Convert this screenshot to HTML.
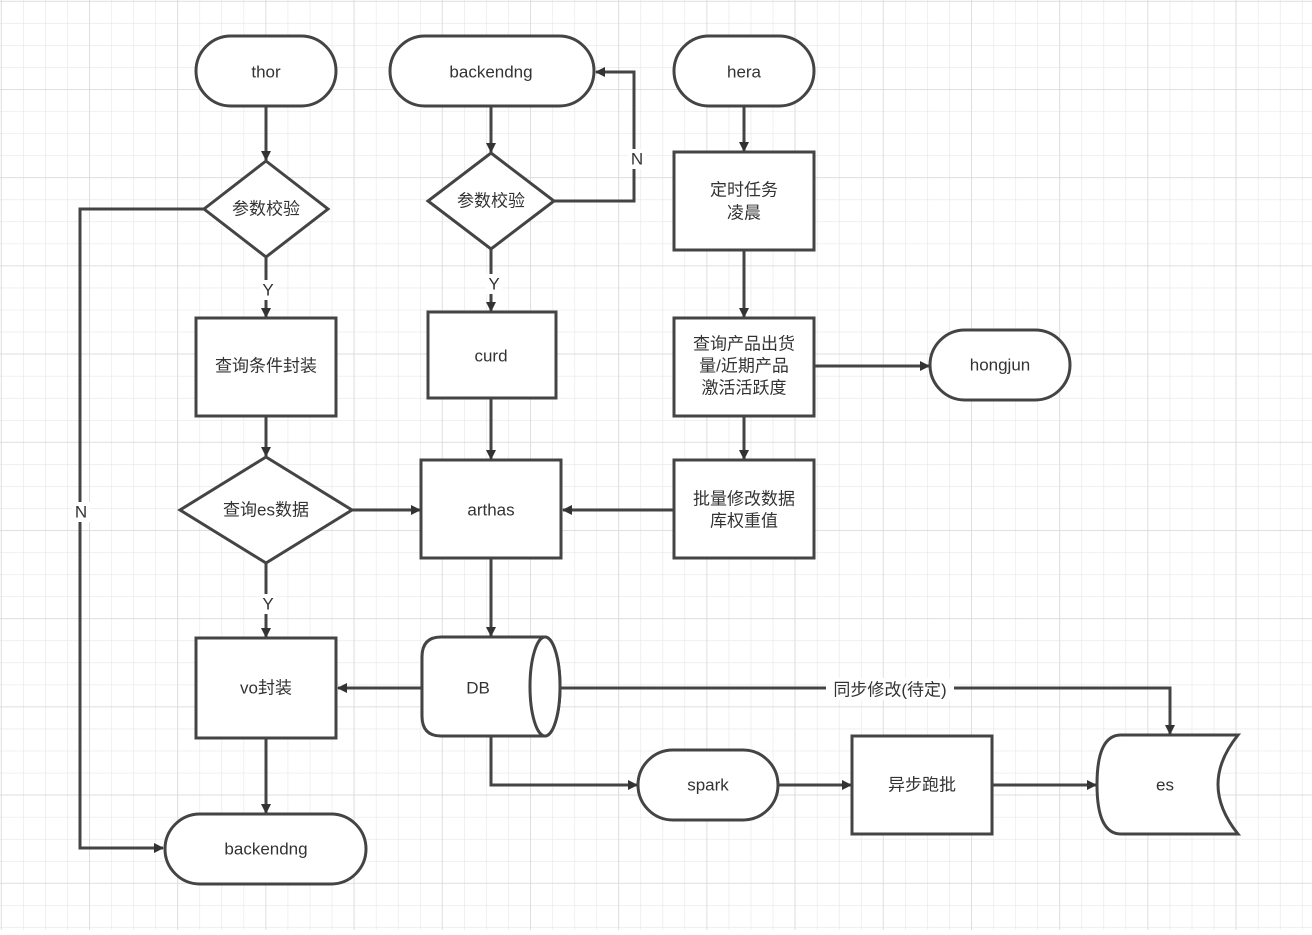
<!DOCTYPE html>
<html><head><meta charset="utf-8"><style>
html,body{margin:0;padding:0;background:#fff}
svg text{font-family:"Liberation Sans","Noto Sans CJK SC",sans-serif;font-size:17px;fill:#333;text-anchor:middle;dominant-baseline:central}
</style></head><body>
<svg width="1312" height="930" xmlns="http://www.w3.org/2000/svg">
<defs>
<pattern id="minor" width="22.05" height="22.05" patternUnits="userSpaceOnUse" x="1" y="1">
<path d="M0 0H22.05M0 0V22.05" stroke="#e6e6e6" stroke-width="1.2" fill="none"/>
</pattern>
<pattern id="major" width="88.2" height="88.2" patternUnits="userSpaceOnUse" x="89" y="89">
<path d="M0 0H88.2M0 0V88.2" stroke="#dadada" stroke-width="1.6" fill="none"/>
</pattern>
<marker id="a" markerWidth="10" markerHeight="10" refX="9" refY="5" orient="auto" markerUnits="userSpaceOnUse" viewBox="0 0 10 10">
<path d="M0 0L10 5L0 10z" fill="#333"/>
</marker>
</defs>
<rect width="1312" height="930" fill="#fff"/>
<rect width="1312" height="930" fill="url(#minor)"/>
<rect width="1312" height="930" fill="url(#major)"/>
<g stroke="#444" stroke-width="3" fill="none" marker-end="url(#a)">
<path d="M266 106V160" transform="translate(0,0)"/>
<path d="M204 209H80V848H163"/>
<path d="M266 257V317"/>
<path d="M266 416V456"/>
<path d="M352 510H420"/>
<path d="M266 563V637"/>
<path d="M266 738V813"/>
<path d="M422 688H338"/>
<path d="M491 558V636"/>
<path d="M491 736V785H637"/>
<path d="M778 785H851"/>
<path d="M992 785H1096"/>
<path d="M560 688H1170V734"/>
<path d="M491 106V152"/>
<path d="M554 201H634V72H596"/>
<path d="M491 249V311"/>
<path d="M491 398V459"/>
<path d="M744 106V151"/>
<path d="M744 250V317"/>
<path d="M814 366H929"/>
<path d="M744 416V459"/>
<path d="M674 510H563"/>
</g>
<g stroke="#444" stroke-width="3" fill="#fff">
<rect x="196" y="36" width="140" height="70" rx="35"/>
<rect x="390" y="36" width="204" height="70" rx="35"/>
<rect x="674" y="36" width="140" height="70" rx="35"/>
<polygon points="266,161 328,209 266,257 204,209"/>
<polygon points="491,153 554,201 491,249 428,201"/>
<rect x="674" y="152" width="140" height="98"/>
<rect x="196" y="318" width="140" height="98"/>
<rect x="428" y="312" width="128" height="86"/>
<rect x="674" y="318" width="140" height="98"/>
<rect x="930" y="330" width="140" height="70" rx="35"/>
<polygon points="266,457 352,510 266,563 180,510"/>
<rect x="421" y="460" width="140" height="98"/>
<rect x="674" y="460" width="140" height="98"/>
<rect x="196" y="638" width="140" height="100"/>
<path d="M441 637H545A15 49.5 0 0 1 545 736H441Q422 736 422 716V657Q422 637 441 637Z"/>
<ellipse cx="545" cy="686.5" rx="15" ry="49.5"/>
<rect x="165" y="814" width="201" height="70" rx="35"/>
<rect x="638" y="750" width="140" height="70" rx="35"/>
<rect x="852" y="736" width="140" height="98"/>
<path d="M1121 735H1238Q1218 760 1218 784.5Q1218 809 1238 834H1121Q1097 834 1097 784.5Q1097 735 1121 735Z"/>
</g>
<rect x="826" y="678" width="128" height="22" fill="#fff"/>
<text x="266" y="72">thor</text>
<text x="491" y="72">backendng</text>
<text x="744" y="72">hera</text>
<text x="266" y="209">参数校验</text>
<text x="491" y="201">参数校验</text>
<text x="744" y="190">定时任务</text>
<text x="744" y="213">凌晨</text>
<text x="266" y="366">查询条件封装</text>
<text x="491" y="356">curd</text>
<text x="744" y="344">查询产品出货</text>
<text x="744" y="366">量/近期产品</text>
<text x="744" y="388">激活活跃度</text>
<text x="1000" y="365">hongjun</text>
<text x="266" y="510">查询es数据</text>
<text x="491" y="510">arthas</text>
<text x="744" y="499">批量修改数据</text>
<text x="744" y="521">库权重值</text>
<text x="266" y="688">vo封装</text>
<text x="478" y="688">DB</text>
<text x="266" y="849">backendng</text>
<text x="708" y="785">spark</text>
<text x="922" y="785">异步跑批</text>
<text x="1165" y="785">es</text>
<text x="890" y="690">同步修改(待定)</text>
<rect x="260" y="280" width="16" height="20" fill="#fff"/>
<text x="268" y="290">Y</text>
<rect x="486" y="274" width="16" height="20" fill="#fff"/>
<text x="494" y="284">Y</text>
<rect x="260" y="594" width="16" height="20" fill="#fff"/>
<text x="268" y="604">Y</text>
<rect x="72" y="502" width="18" height="20" fill="#fff"/>
<text x="81" y="512">N</text>
<rect x="628" y="149" width="18" height="20" fill="#fff"/>
<text x="637" y="159">N</text>
</svg>
</body></html>
